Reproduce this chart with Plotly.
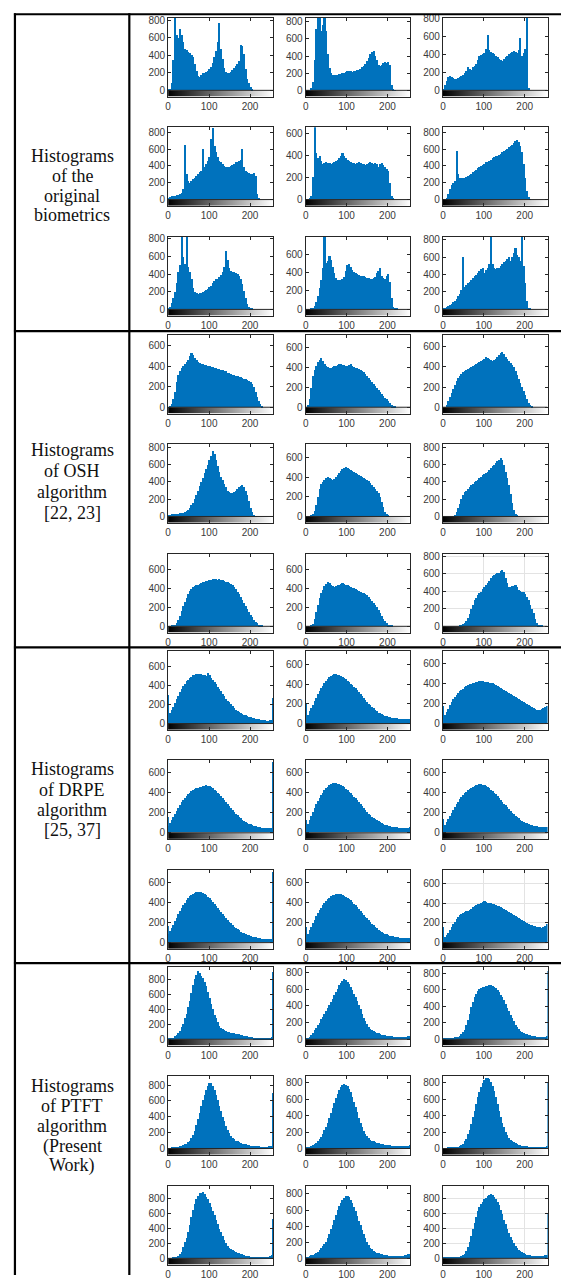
import numpy as np
import plotly.graph_objects as go

W, H = 561, 1280

row_labels = [
    ["Histograms", "of the", "original", "biometrics"],
    ["Histograms", "of OSH", "algorithm", "[22, 23]"],
    ["Histograms", "of DRPE", "algorithm", "[25, 37]"],
    ["Histograms", "of PTFT", "algorithm", "(Present", "Work)"],
]

# Pixel counts, 64 bins of 4 gray levels each (0-255)
orig_1 = [5,20,80,350,900,640,600,700,640,560,480,460,440,430,410,380,300,220,170,155,180,195,200,210,225,240,270,310,380,450,560,770,480,360,260,215,205,200,210,230,260,280,300,340,520,510,420,250,130,90,40,10,0,0,0,0,0,0,0,0,0,0,0,0]
orig_2 = [0,0,5,30,100,350,720,900,850,700,760,900,700,420,260,200,180,175,180,185,190,195,200,205,215,225,230,225,220,225,230,235,240,255,270,290,310,340,380,430,450,460,400,350,300,280,300,320,330,320,330,300,60,15,5,0,0,0,0,0,0,0,0,0]
orig_3 = [10,60,110,150,160,150,140,130,130,140,150,160,170,190,220,260,240,230,260,270,300,340,380,400,410,420,460,620,450,430,420,410,390,370,350,340,330,350,370,390,410,420,430,440,430,420,450,590,380,420,460,830,30,0,0,0,0,0,0,0,0,0,0,0]
orig_4 = [20,30,40,40,45,50,50,60,80,120,650,300,220,200,220,240,260,280,300,320,340,600,380,420,460,500,720,850,640,560,500,460,440,420,400,390,380,390,400,410,420,440,450,460,470,600,380,340,320,310,300,300,310,280,60,10,0,0,0,0,0,0,0,0]
orig_5 = [0,0,5,30,200,720,420,380,400,350,320,330,340,330,330,320,330,340,350,360,380,400,420,400,380,360,350,340,330,330,320,330,340,330,320,320,310,320,330,340,330,320,330,320,300,320,330,310,300,280,260,150,30,5,0,0,0,0,0,0,0,0,0,0]
orig_6 = [0,5,20,60,120,170,200,220,580,300,260,250,250,260,270,280,290,300,320,340,350,370,380,400,410,420,440,450,460,470,490,500,510,520,530,540,560,570,590,600,620,640,650,670,690,700,680,640,560,420,250,100,30,5,0,0,0,0,0,0,0,0,0,0]
orig_7 = [10,30,70,130,200,300,420,500,900,600,520,830,480,420,350,240,200,185,180,185,190,195,205,215,230,250,270,300,320,340,350,370,390,420,480,660,560,470,440,420,420,410,400,380,340,290,210,130,60,25,10,5,0,0,0,0,0,0,0,0,0,0,0,0]
orig_8 = [0,0,0,5,15,40,80,150,230,320,450,780,500,530,580,540,460,390,340,320,320,320,330,350,420,480,490,460,430,410,400,380,370,360,360,360,350,345,340,330,330,340,350,400,420,450,360,340,330,360,380,300,120,30,15,5,0,0,0,0,0,0,0,0]
orig_9 = [10,20,30,40,50,60,80,100,120,150,180,220,600,260,280,300,320,340,360,380,400,420,440,460,480,420,450,480,520,900,520,480,460,470,480,500,520,540,560,580,600,560,600,650,700,620,600,560,900,500,300,100,20,5,0,0,0,0,0,0,0,0,0,0]

osh_1 = [0,10,30,80,150,250,320,350,380,400,420,440,460,500,530,510,480,460,440,430,420,420,410,410,400,400,390,390,380,380,370,370,360,360,350,350,340,340,330,320,320,310,310,300,300,290,280,280,270,260,250,230,200,150,100,60,30,10,0,0,0,0,0,0]
osh_2 = [0,20,80,200,320,380,420,460,480,500,470,440,420,410,400,400,410,420,420,430,440,440,430,430,420,420,430,440,420,410,400,400,390,380,370,360,340,320,300,280,260,240,220,200,180,160,140,120,100,80,60,40,20,10,5,0,0,0,0,0,0,0,0,0]
osh_3 = [0,0,20,60,100,140,180,220,260,290,310,330,350,360,370,380,390,400,410,420,430,440,450,460,470,480,500,490,480,470,460,470,480,500,520,540,550,530,500,480,460,440,420,400,360,320,280,240,200,160,120,80,40,20,5,0,0,0,0,0,0,0,0,0]
osh_4 = [10,20,25,30,30,30,30,35,40,40,50,60,80,100,130,160,200,250,300,350,400,450,500,550,600,650,700,760,720,650,580,520,460,420,380,340,300,280,270,270,280,300,320,340,350,360,340,300,250,180,100,50,20,5,0,0,0,0,0,0,0,0,0,0]
osh_5 = [0,0,0,5,20,60,120,200,280,330,350,370,390,400,390,380,370,380,400,420,440,460,480,490,500,490,480,470,460,450,440,430,420,410,400,390,380,370,360,340,320,300,280,260,240,200,150,100,50,20,5,0,0,0,0,0,0,0,0,0,0,0,0,0]
osh_6 = [0,0,0,0,0,0,5,20,50,100,150,200,250,280,300,320,340,360,380,400,410,420,440,460,480,490,500,520,540,560,580,600,620,640,660,680,650,600,520,440,360,260,160,80,30,10,0,0,0,0,0,0,0,0,0,0,0,0,0,0,0,0,0,0]
osh_7 = [0,0,5,10,20,40,70,110,160,210,260,300,340,370,390,410,420,430,440,450,460,465,470,475,480,485,490,495,500,495,490,495,490,485,480,470,465,455,445,430,410,390,365,340,310,280,250,215,180,150,120,95,70,50,35,20,12,5,0,0,0,0,0,0]
osh_8 = [0,0,0,10,30,80,150,230,300,350,380,420,450,470,460,440,420,410,420,430,440,450,460,450,440,430,420,410,400,400,390,380,370,360,350,350,340,330,310,290,270,250,230,200,170,140,110,80,60,40,20,10,5,0,0,0,0,0,0,0,0,0,0,0]
osh_9 = [0,0,0,0,0,0,0,0,0,0,10,15,25,40,60,100,140,200,250,300,330,360,380,400,430,450,480,500,520,550,580,590,600,610,610,630,650,620,560,500,450,450,460,465,470,450,420,410,400,390,370,340,300,250,200,150,80,40,20,10,5,0,0,0]

drpe_1 = [90,110,140,175,210,255,290,330,360,395,415,440,460,475,490,505,510,520,520,520,515,510,505,500,530,510,480,460,430,410,385,360,335,310,285,260,240,220,200,180,160,145,130,120,110,100,92,85,78,72,66,60,55,50,46,42,38,35,33,32,30,30,32,40]
drpe_2 = [60,90,130,160,190,230,260,300,330,360,385,410,430,450,470,485,490,500,500,495,490,480,470,460,450,435,420,405,390,375,360,340,320,300,280,260,240,220,200,185,170,155,140,125,110,102,95,88,80,75,70,65,60,57,54,51,50,48,47,46,45,45,46,48]
drpe_3 = [50,80,110,145,180,210,240,265,285,305,320,335,345,360,370,380,390,395,400,405,410,415,420,420,420,415,410,410,405,400,400,395,385,375,365,355,345,335,325,315,305,295,285,275,265,255,245,235,225,215,205,195,185,175,165,155,145,135,130,135,140,150,160,175]
drpe_4 = [60,90,120,150,180,210,240,270,300,320,340,360,380,395,410,420,430,440,445,450,455,460,465,470,465,460,450,440,425,410,395,380,360,340,320,300,280,260,240,220,200,185,170,155,140,128,116,105,95,88,80,74,68,63,58,54,50,47,44,42,40,40,42,45]
drpe_5 = [40,80,120,160,200,240,280,310,340,370,395,420,440,455,470,480,488,492,490,485,480,470,460,448,435,420,405,390,372,355,338,320,300,280,260,240,222,205,188,172,158,145,132,120,110,100,92,85,78,72,67,62,58,55,52,50,48,46,45,44,44,45,47,50]
drpe_6 = [40,70,100,130,160,190,220,250,280,305,330,350,370,390,405,420,432,444,455,463,470,476,480,478,474,468,460,450,438,424,410,394,378,360,342,324,305,286,268,250,232,215,198,182,167,153,140,128,117,107,98,90,83,77,72,67,63,60,57,55,54,54,55,58]
drpe_7 = [80,110,140,175,210,245,280,310,340,370,395,420,440,458,472,485,495,500,505,505,500,492,482,470,455,440,422,404,385,365,345,325,305,285,265,245,226,208,190,174,158,144,131,119,108,98,90,82,75,69,63,58,54,50,46,43,40,38,36,35,34,34,35,38]
drpe_8 = [50,85,120,155,190,225,260,290,320,345,370,392,412,430,445,457,467,474,479,481,480,477,472,465,455,444,432,418,403,387,370,352,333,314,295,276,257,238,220,202,186,170,155,141,128,116,106,96,88,80,74,68,63,59,55,52,50,48,46,45,44,44,45,48]
drpe_9 = [30,50,75,100,130,160,185,210,235,260,275,290,300,308,315,322,330,340,355,365,375,385,392,398,405,415,410,400,398,395,390,385,378,372,365,355,345,335,325,315,305,295,285,275,265,255,245,235,225,215,205,195,185,178,172,168,163,160,157,153,150,155,165,185]

ptft_1 = [10,12,18,25,40,55,80,110,160,210,280,340,430,510,620,720,800,860,910,880,850,820,770,710,630,550,470,400,330,280,230,185,155,135,120,110,102,98,92,87,82,78,72,67,62,57,50,45,40,36,32,28,25,23,21,20,20,20,20,20,20,22,25,32]
ptft_2 = [10,20,35,55,80,110,140,170,200,240,270,305,340,380,410,450,490,530,570,610,650,680,700,720,710,690,660,630,590,550,505,460,410,360,310,260,215,180,150,130,115,100,90,80,72,64,58,52,48,45,42,40,38,35,33,31,30,30,30,30,30,33,38,42]
ptft_3 = [20,18,18,18,20,20,22,24,27,32,45,60,85,120,170,240,310,390,450,510,550,590,610,620,635,640,648,650,660,665,650,640,620,600,575,545,510,475,430,380,340,300,260,220,180,150,125,100,88,78,68,60,55,50,45,40,38,35,32,30,30,32,35,40]
ptft_4 = [5,5,8,10,12,15,20,25,32,40,50,62,80,100,130,170,220,290,370,450,530,610,680,740,790,830,820,790,740,680,610,540,470,400,340,285,235,195,160,135,115,100,88,78,70,62,55,50,45,40,36,33,30,28,26,25,24,23,23,23,24,26,30,35]
ptft_5 = [10,15,22,30,40,55,70,90,115,145,180,220,265,315,370,430,490,550,610,665,710,745,770,780,775,755,720,680,630,570,505,440,375,315,260,215,178,148,125,108,95,85,77,70,64,58,53,49,45,42,39,37,35,33,31,30,29,28,28,28,29,31,34,40]
ptft_6 = [5,5,5,6,7,8,10,12,15,20,28,40,58,85,120,170,230,300,380,460,540,620,690,750,800,835,855,860,845,810,760,695,620,540,460,385,315,255,205,165,132,107,88,73,62,53,46,40,35,31,28,25,23,21,20,19,18,18,18,18,19,20,22,25]
ptft_7 = [3,4,5,8,12,20,35,55,90,150,215,280,360,450,550,650,730,800,840,870,880,885,860,820,790,740,690,640,580,520,460,400,350,300,250,200,165,140,120,108,98,88,78,70,62,55,45,38,32,27,23,20,20,20,20,20,20,20,20,20,20,25,35,50]
ptft_8 = [10,15,25,38,48,60,72,85,100,125,150,180,210,250,300,360,420,480,540,600,650,690,720,750,775,780,760,730,690,640,590,530,470,410,350,300,250,205,165,135,112,95,82,72,64,57,50,45,41,38,35,33,31,30,30,30,30,30,32,35,38,42,50,60]
ptft_9 = [8,8,9,10,10,10,10,12,14,16,20,28,45,65,100,150,220,300,390,480,560,640,690,730,760,790,810,830,845,860,850,820,790,760,710,650,590,520,460,400,345,290,245,200,170,140,115,95,80,70,60,52,46,40,35,32,30,30,30,30,32,38,45,50]

# Counts at gray level 0 and 255 (single-level spikes)
orig_edge_lo = [0, 0, 0, 0, 0, 0, 0, 0, 0]
orig_edge_hi = [0, 0, 0, 0, 0, 0, 0, 0, 0]
osh_edge_lo = [0, 0, 0, 0, 0, 0, 0, 0, 0]
osh_edge_hi = [0, 0, 0, 0, 0, 0, 0, 0, 0]
drpe_edge_lo = [300, 200, 170, 150, 120, 130, 160, 150, 160]
drpe_edge_hi = [270, 390, 0, 700, 400, 0, 700, 400, 0]
ptft_edge_lo = [0, 0, 0, 0, 0, 0, 0, 0, 0]
ptft_edge_hi = [900, 800, 830, 700, 700, 800, 530, 810, 610]

# Upper y-limit of each histogram panel
orig_ylim = [830, 846, 810, 860, 660, 860, 822, 785, 830]
osh_ylim = [705, 730, 720, 840, 740, 840, 760, 760, 830]
drpe_ylim = [759, 740, 722, 720, 720, 720, 720, 720, 733]
ptft_ylim = [964, 868, 880, 914, 880, 880, 969, 900, 969]

groups = [
    ([orig_1, orig_2, orig_3, orig_4, orig_5, orig_6, orig_7, orig_8, orig_9], orig_ylim, orig_edge_lo, orig_edge_hi),
    ([osh_1, osh_2, osh_3, osh_4, osh_5, osh_6, osh_7, osh_8, osh_9], osh_ylim, osh_edge_lo, osh_edge_hi),
    ([drpe_1, drpe_2, drpe_3, drpe_4, drpe_5, drpe_6, drpe_7, drpe_8, drpe_9], drpe_ylim, drpe_edge_lo, drpe_edge_hi),
    ([ptft_1, ptft_2, ptft_3, ptft_4, ptft_5, ptft_6, ptft_7, ptft_8, ptft_9], ptft_ylim, ptft_edge_lo, ptft_edge_hi),
]

BAR = "#0072BD"
AXC = "#262626"
TICKF = dict(family="Liberation Sans, Arial, sans-serif", size=10, color="#3a3a3a")

bin_edges = np.arange(0, 257, 4)
bin_centers = (bin_edges[:-1] + bin_edges[1:]) / 2
gray_edges = np.arange(0, 257)
gray_ramp = [np.arange(256)]

# Table geometry (pixels)
row_lines = [9.3, 328.7, 647.5, 965.7]
col_x = [(166.0, 271.5), (304.3, 409.5), (442.3, 547.5)]
sub_top = [3.7, 113.8, 224.5]
HIST_H = 73.0
CBAR_H = 6.5

label_y = [
    [152, 172, 192, 212],
    [449, 470, 491, 512],
    [770, 791, 811, 831],
    [1090, 1110, 1130, 1150, 1170],
]

fig = go.Figure()
layout = {}
shapes = []

for r, (hists, ylims, lo, hi) in enumerate(groups):
    for k in range(9):
        n = r * 9 + k + 1
        sfx = "" if n == 1 else str(n)
        xa, ya = "x" + sfx, "y" + sfx
        row, col = divmod(k, 3)
        top = row_lines[r] + sub_top[row]
        x0, x1 = col_x[col]
        ymax = ylims[k]
        cb = ymax * CBAR_H / HIST_H

        fig.add_trace(go.Heatmap(
            z=gray_ramp, x=gray_edges, y=[-cb, 0],
            colorscale=[[0, "#000000"], [1, "#ffffff"]],
            showscale=False, hoverinfo="skip", xaxis=xa, yaxis=ya))
        fig.add_trace(go.Bar(
            x=bin_centers, y=hists[k], width=4,
            marker=dict(color=BAR, line=dict(width=0)),
            showlegend=False, xaxis=xa, yaxis=ya))
        spikes_x, spikes_y = [], []
        if lo[k]:
            spikes_x.append(0.5); spikes_y.append(lo[k])
        if hi[k]:
            spikes_x.append(255.5); spikes_y.append(hi[k])
        if spikes_x:
            fig.add_trace(go.Bar(
                x=spikes_x, y=spikes_y, width=1.2,
                marker=dict(color=BAR, line=dict(width=0)),
                showlegend=False, xaxis=xa, yaxis=ya))

        grid = (k == 8 and r > 0)
        layout["xaxis" + sfx] = dict(
            domain=[x0 / W, x1 / W], range=[0, 256], anchor=ya,
            tickvals=[0, 100, 200], ticks="inside", ticklen=3, tickcolor=AXC,
            showline=True, linecolor=AXC, linewidth=1, mirror="ticks",
            showgrid=grid, gridcolor="#e3e3e3", zeroline=False,
            tickfont=TICKF, fixedrange=True)
        layout["yaxis" + sfx] = dict(
            domain=[1 - (top + HIST_H + CBAR_H) / H, 1 - top / H],
            range=[-cb, ymax], anchor=xa,
            tickvals=list(range(0, ymax + 1, 200)), ticks="inside", ticklen=3,
            tickcolor=AXC, showline=True, linecolor=AXC, linewidth=1,
            mirror="ticks", showgrid=grid, gridcolor="#e3e3e3", zeroline=False,
            tickfont=TICKF, fixedrange=True)
        shapes.append(dict(type="line", xref=xa, yref=ya, x0=0, x1=256, y0=0, y1=0,
                           line=dict(color=AXC, width=1)))

# Table rules
LW = 2.2
for yl in row_lines:
    shapes.append(dict(type="line", xref="paper", yref="paper",
                       x0=11 / W, x1=1, y0=1 - yl / H, y1=1 - yl / H,
                       line=dict(color="#000000", width=LW)))
for xl in (12.0, 127.0):
    shapes.append(dict(type="line", xref="paper", yref="paper",
                       x0=xl / W, x1=xl / W, y0=1 - row_lines[0] / H + 1 / H, y1=0,
                       line=dict(color="#000000", width=LW)))

annotations = []
for lines, ys in zip(row_labels, label_y):
    for txt, yy in zip(lines, ys):
        annotations.append(dict(
            text=txt, x=69.5 / W, y=1 - yy / H, xref="paper", yref="paper",
            xanchor="center", yanchor="middle", showarrow=False,
            font=dict(family="Liberation Serif, Times New Roman, serif", size=18, color="#111111")))

fig.update_layout(
    width=W, height=H, margin=dict(l=0, r=0, t=0, b=0),
    paper_bgcolor="white", plot_bgcolor="white",
    barmode="overlay", bargap=0, showlegend=False,
    shapes=shapes, annotations=annotations, **layout)

fig.write_html("out.html")
